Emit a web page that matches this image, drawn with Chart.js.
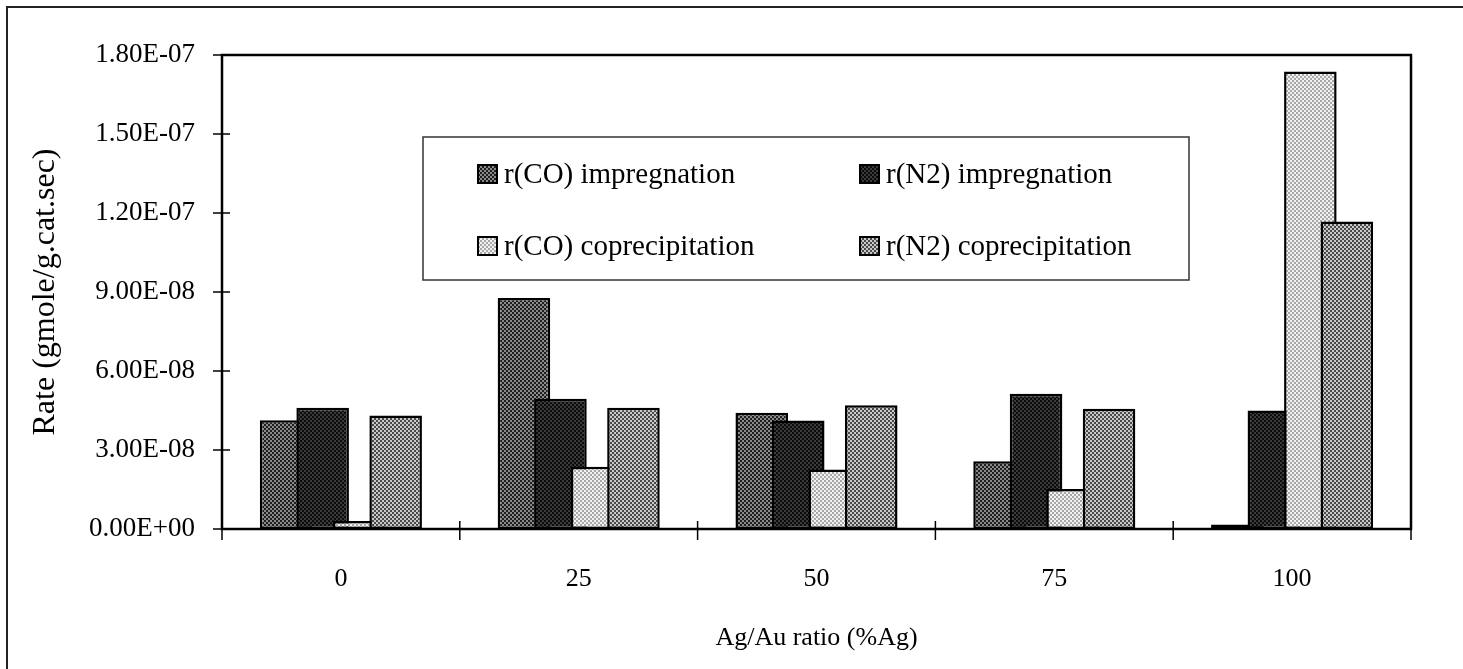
<!DOCTYPE html>
<html>
<head>
<meta charset="utf-8">
<script src="https://cdn.jsdelivr.net/npm/chart.js@4/dist/chart.umd.min.js"></script>
<style>
    body { margin: 0; background: #fff; }
    #wrap { width: 1463px; height: 669px; position: relative; }
</style>
</head>
<body>
<div id="wrap"><canvas id="rateChart"></canvas></div>
<script>
    // Data
    const ratios = ['0', '25', '50', '75', '100'];
    const coImpregnation = [4.13e-8, 8.77e-8, 4.41e-8, 2.57e-8, 0.17e-8];
    const n2Impregnation = [4.60e-8, 4.95e-8, 4.12e-8, 5.14e-8, 4.50e-8];
    const coCoprecipitation = [0.30e-8, 2.36e-8, 2.26e-8, 1.52e-8, 17.37e-8];
    const n2Coprecipitation = [4.31e-8, 4.60e-8, 4.70e-8, 4.57e-8, 11.68e-8];
    const yMax = 1.8e-7;
    const yStep = 3e-8;

    const FONT = '"Liberation Serif", "Times New Roman", serif';

    const canvas = document.getElementById('rateChart');
    const ctx = canvas.getContext('2d');

    // small checker patterns to imitate the dotted fills
    function makePattern(fg, bg) {
        const c = document.createElement('canvas');
        c.width = 4;
        c.height = 4;
        const p = c.getContext('2d');
        p.fillStyle = bg;
        p.fillRect(0, 0, 4, 4);
        p.fillStyle = fg;
        p.fillRect(0, 0, 2, 2);
        p.fillRect(2, 2, 2, 2);
        return ctx.createPattern(c, 'repeat');
    }

    const fills = [
        makePattern('#1e1e1e', '#8a8a8a'),
        makePattern('#0c0c0c', '#3a3a3a'),
        makePattern('#a8a8a8', '#f2f2f2'),
        makePattern('#4a4a4a', '#c8c8c8')
    ];

    function sci(v) {
        const s = Number(v).toExponential(2).split('e');
        const exp = parseInt(s[1], 10);
        const sign = exp < 0 ? '-' : '+';
        return s[0] + 'E' + sign + String(Math.abs(exp)).padStart(2, '0');
    }

    // draw datasets in order so later series sit on top of the overlap
    const drawOrder = {
        id: 'drawOrder',
        beforeDatasetsDraw(chart) {
            for (let i = 0; i < chart.data.datasets.length; i++) {
                chart.getDatasetMeta(i).controller.draw();
            }
            return false;
        }
    };

    // frame, crossing tick marks and boxed legend
    const decorations = {
        id: 'decorations',
        beforeDraw(chart) {
            const c = chart.ctx;
            c.save();
            c.strokeStyle = '#222';
            c.lineWidth = 2;
            c.beginPath();
            c.moveTo(7, 669);
            c.lineTo(7, 7);
            c.lineTo(1463, 7);
            c.stroke();
            c.restore();
        },
        afterDraw(chart) {
            const c = chart.ctx;
            const a = chart.chartArea;
            const xs = chart.scales.x;
            const ys = chart.scales.y;
            c.save();
            c.strokeStyle = '#000';
            c.lineWidth = 2.5;
            c.strokeRect(a.left, a.top, a.right - a.left, a.bottom - a.top);

            c.lineWidth = 1.5;
            ys.ticks.forEach(t => {
                const y = ys.getPixelForValue(t.value);
                c.beginPath();
                c.moveTo(a.left - 9, y);
                c.lineTo(a.left + 8, y);
                c.stroke();
            });
            for (let i = 0; i <= ratios.length; i++) {
                const x = xs.getPixelForValue(i - 0.5);
                c.beginPath();
                c.moveTo(x, a.bottom - 8);
                c.lineTo(x, a.bottom + 11);
                c.stroke();
            }

            // legend box
            c.fillStyle = '#fff';
            c.fillRect(423, 137, 766, 143);
            c.strokeStyle = '#333';
            c.lineWidth = 1.5;
            c.strokeRect(423, 137, 766, 143);

            const spots = [[478, 174], [860, 174], [478, 246], [860, 246]];
            c.font = '29px ' + FONT;
            c.textBaseline = 'middle';
            c.textAlign = 'left';
            chart.data.datasets.forEach((ds, k) => {
                const [x, y] = spots[k];
                c.fillStyle = ds.backgroundColor;
                c.fillRect(x, y - 9, 19, 18);
                c.strokeStyle = '#000';
                c.lineWidth = 2;
                c.strokeRect(x, y - 9, 19, 18);
                c.fillStyle = '#000';
                c.fillText(ds.label, x + 26, y + 1);
            });
            c.restore();
        }
    };

    const barStyle = {
        borderColor: '#000',
        borderWidth: 2.5,
        borderSkipped: false,
        categoryPercentage: 0.614,
        barPercentage: 1.44
    };

    new Chart(ctx, {
        type: 'bar',
        data: {
            labels: ratios,
            datasets: [
                { label: 'r(CO) impregnation', data: coImpregnation, backgroundColor: fills[0], ...barStyle },
                { label: 'r(N2) impregnation', data: n2Impregnation, backgroundColor: fills[1], ...barStyle },
                { label: 'r(CO) coprecipitation', data: coCoprecipitation, backgroundColor: fills[2], ...barStyle },
                { label: 'r(N2) coprecipitation', data: n2Coprecipitation, backgroundColor: fills[3], ...barStyle }
            ]
        },
        options: {
            responsive: true,
            maintainAspectRatio: false,
            animation: false,
            layout: {
                padding: { top: 55, right: 52, left: 0, bottom: 0 }
            },
            scales: {
                x: {
                    grid: { display: false, drawTicks: false },
                    border: { display: false },
                    ticks: {
                        color: '#000',
                        padding: 35,
                        font: { family: FONT, size: 26 }
                    },
                    title: {
                        display: true,
                        text: 'Ag/Au ratio (%Ag)',
                        color: '#000',
                        font: { family: FONT, size: 26 },
                        padding: { top: 0, bottom: 15 }
                    },
                    afterFit(scale) { scale.height = 140; }
                },
                y: {
                    min: 0,
                    max: yMax,
                    grid: { display: false, drawTicks: false },
                    border: { display: false },
                    ticks: {
                        stepSize: yStep,
                        color: '#000',
                        padding: 27,
                        font: { family: FONT, size: 27 },
                        callback: v => sci(v)
                    },
                    title: {
                        display: true,
                        text: 'Rate (gmole/g.cat.sec)',
                        color: '#000',
                        font: { family: FONT, size: 32 },
                        padding: { top: 26, bottom: 0 }
                    },
                    afterFit(scale) { scale.width = 222; }
                }
            },
            plugins: {
                legend: { display: false },
                tooltip: { enabled: false }
            }
        },
        plugins: [drawOrder, decorations]
    });
</script>
</body>
</html>
